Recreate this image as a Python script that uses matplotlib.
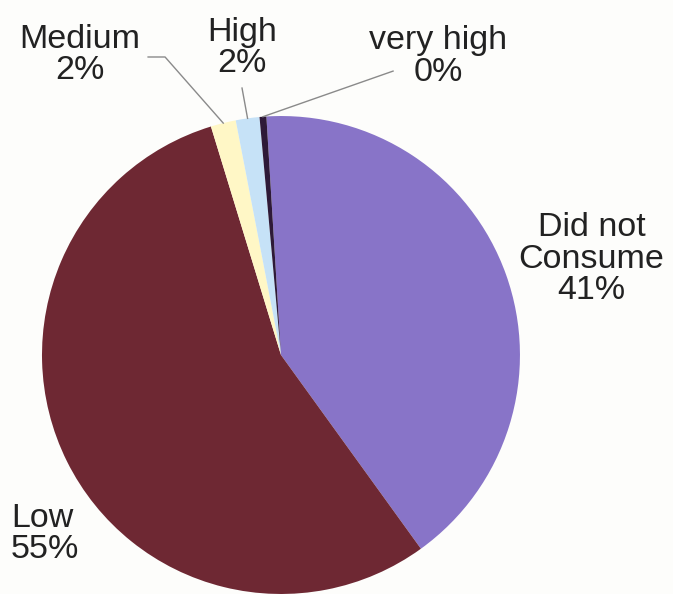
import numpy as np
import matplotlib
matplotlib.use("Agg")
import matplotlib.pyplot as plt

# consumption levels, share of respondents (%)
categorias = ["Did not\nConsume", "Low", "Medium", "High", "very high"]
valores = [41.0, 55.2, 1.7, 1.6, 0.46]
colores = ["#8874c8", "#6e2833", "#fff7c6", "#c6e2f7", "#2e1a38"]

plt.rcParams["font.family"] = ["Liberation Sans", "DejaVu Sans"]

fig = plt.figure(figsize=(6.73, 5.94), dpi=100, facecolor="#fdfdfb")
# pie centred a bit left of the middle, touching the bottom edge
ax = fig.add_axes([0.0624, 0.0, 0.7102, 0.8047])

wedges, _ = ax.pie(valores, colors=colores, startangle=93.5, counterclock=False,
                   radius=1.0, wedgeprops=dict(linewidth=0))
ax.set_xlim(-1, 1)
ax.set_ylim(-1, 1)
ax.set_aspect("equal")
ax.axis("off")

# label text positions (data units) and where their leader lines start
pos_texto = [(1.30, 0.40), (-1.13, -0.75), (-0.84, 1.255), (-0.163, 1.285), (0.657, 1.25)]
inicio_guia = [None, None, [(-0.556, 1.247), (-0.485, 1.247)], [(-0.163, 1.117)], [(0.469, 1.188)]]

for w, nombre, v, (tx, ty), guia in zip(wedges, categorias, valores, pos_texto, inicio_guia):
    texto = f"{nombre}\n{v:.0f}%"
    ha = "left" if nombre == "Low" else "center"
    ax.text(tx, ty, texto, ha=ha, va="center", multialignment=ha,
            fontsize=24.5, color="#222222", linespacing=1.02, clip_on=False)
    if guia is not None:
        ang = np.deg2rad((w.theta1 + w.theta2) / 2)
        pts = guia + [(np.cos(ang), np.sin(ang))]
        xs, ys = zip(*pts)
        ax.plot(xs, ys, color="#8a8a8a", lw=1.0, clip_on=False)

fig.savefig("out.png", dpi=100, facecolor=fig.get_facecolor())
